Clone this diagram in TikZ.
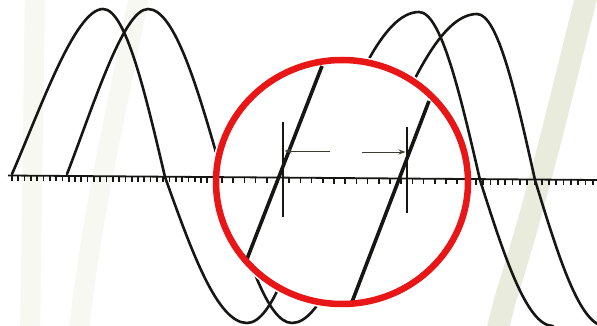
\documentclass[tikz,border=0pt]{standalone}
\usetikzlibrary{arrows.meta}
\definecolor{ink}{RGB}{22,22,20}
\definecolor{ringred}{RGB}{232,22,22}
\definecolor{stain}{RGB}{212,218,186}
\definecolor{arrowgray}{RGB}{60,62,50}
\tikzset{
  wave/.style={ink, line width=2.6pt, line cap=round, line join=round},
  zoomline/.style={ink, line width=3.6pt, line cap=butt},
  marker/.style={ink, line width=1.1pt},
  dimarrow/.style={arrowgray, line width=0.9pt, -{Stealth[length=7pt,width=5pt]}},
  axisline/.style={ink, line width=1.8pt},
  tickmark/.style={ink, line width=1.7pt},
  ring/.style={ringred, line width=6.5pt},
  stainband/.style={stain, line width=20pt, opacity=0.5, line cap=round},
}
\begin{document}
\begin{tikzpicture}[x=1pt,y=-1pt]
\useasboundingbox (0,0) rectangle (597,326);
\fill[white] (0,0) rectangle (597,326);
% faint background stains of the scan
\begin{scope}
  \clip (0,0) rectangle (597,326);
  \draw[stainband, line width=22pt] (588,-10) .. controls (560,100) and (540,190) .. (505,300) -- (495,340);
  \draw[stainband, opacity=0.18] (35,-10) -- (30,340);
  \draw[stainband, opacity=0.18] (140,-10) .. controls (115,120) and (90,220) .. (78,340);
\end{scope}
% axis with ticks
\coordinate (axL) at (8,175.5);
\coordinate (axR) at (597,180);
\draw[axisline] (axL) -- (axR);
\foreach \x in {12,18.3,...,214} \draw[tickmark] (\x,{175.5+0.0075*\x}) -- ++(0,5.5);
\foreach \x in {222,233.2,...,468} \draw[tickmark] (\x,{175.5+0.0075*\x}) -- ++(0,5.5);
\foreach \x in {476,483.3,...,597} \draw[tickmark] (\x,{175.5+0.0075*\x}) -- ++(0,5.5);
% the two waves, cut away inside the magnifier
\begin{scope}[even odd rule]
  \clip (-10,-10) rectangle (610,340) (342,182) ellipse [x radius=131pt, y radius=127pt];
  \draw[wave] (12,174) .. controls (40,110) and (75,9) .. (103,9) cos (165,177) sin (247,323) cos (317,178) sin (419,12) cos (480,180) sin (553,326);
  \draw[wave] (67,174) .. controls (92,110) and (123,9) .. (148,9) cos (223,177) sin (292,323) cos (371,178) sin (477,14) cos (535,180) sin (605,326);
\end{scope}
% magnified zero crossings
\coordinate (l1a) at (247,259);
\coordinate (l1b) at (322,66);
\coordinate (l2a) at (352,302);
\coordinate (l2b) at (429,101);
\draw[zoomline] (l1a) -- (l1b);
\draw[zoomline] (l2a) -- (l2b);
% marker lines and arrows
\coordinate (v1t) at (283,122);
\coordinate (v1b) at (283,217);
\coordinate (v2t) at (407,127);
\coordinate (v2b) at (407,213);
\draw[marker] (v1t) -- (v1b);
\draw[marker] (v2t) -- (v2b);
\coordinate (a1s) at (330,151);
\coordinate (a1e) at (284.5,151);
\coordinate (a2s) at (362,152);
\coordinate (a2e) at (405.5,152);
\draw[dimarrow] (a1s) -- (a1e);
\draw[dimarrow] (a2s) -- (a2e);
% red magnifier ring
\draw[ring] (342,182) ellipse [x radius=126pt, y radius=122pt];
\end{tikzpicture}
\end{document}
